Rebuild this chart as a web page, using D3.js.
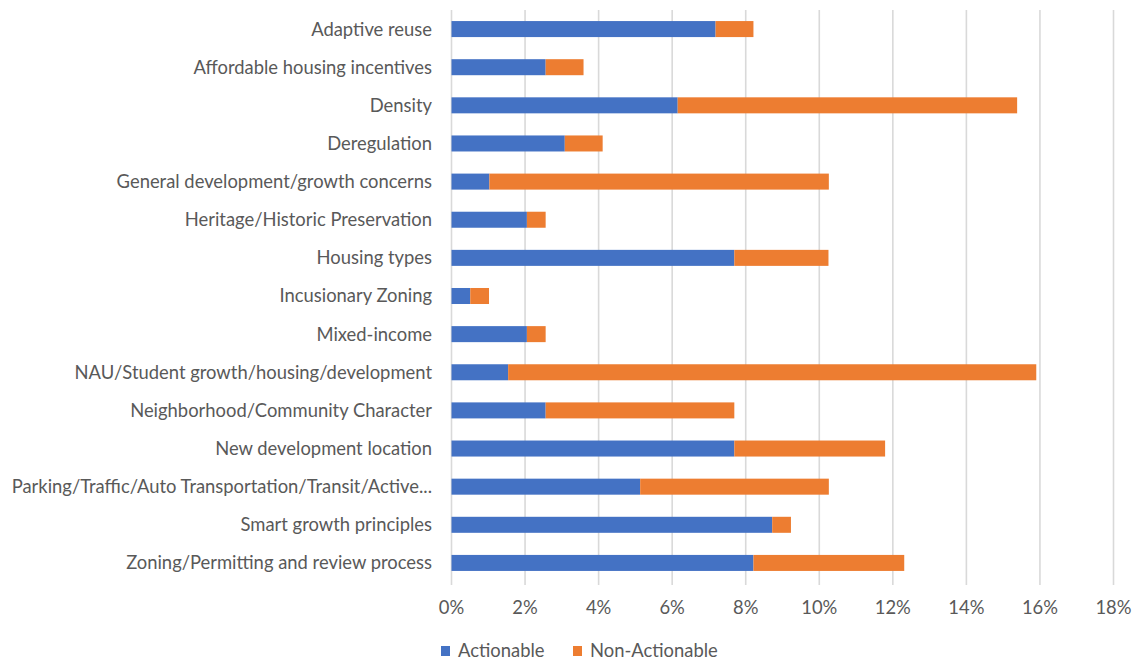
<!DOCTYPE html>
<html>
<head>
<meta charset="utf-8">
<script src="https://cdn.jsdelivr.net/npm/d3@7"></script>
<style>
  html, body { margin: 0; padding: 0; background: #fff; }
  svg { display: block; }
  text { font-family: Lato, "Open Sans", sans-serif; fill: #595959; }
</style>
</head>
<body>
<svg id="chart" width="1135" height="662"></svg>
<script>
// Comment themes, top to bottom
const categories = [
  "Adaptive reuse",
  "Affordable housing incentives",
  "Density",
  "Deregulation",
  "General development/growth concerns",
  "Heritage/Historic Preservation",
  "Housing types",
  "Incusionary Zoning",
  "Mixed-income",
  "NAU/Student growth/housing/development",
  "Neighborhood/Community Character",
  "New development location",
  "Parking/Traffic/Auto Transportation/Transit/Active...",
  "Smart growth principles",
  "Zoning/Permitting and review process"
];

// Share of comments (%) per theme
const actionable    = [7.18, 2.56, 6.15, 3.08, 1.03, 2.05, 7.69, 0.51, 2.05, 1.54, 2.56, 7.69, 5.13, 8.72, 8.21];
const nonActionable = [1.03, 1.03, 9.23, 1.03, 9.23, 0.51, 2.56, 0.51, 0.51, 14.36, 5.13, 4.10, 5.13, 0.51, 4.10];

const seriesNames = ["Actionable", "Non-Actionable"];
const seriesColors = ["#4472C4", "#ED7D31"];
const tickValues = [0, 2, 4, 6, 8, 10, 12, 14, 16, 18];

const svg = d3.select("#chart");

const plotLeft = 451.5, plotRight = 1113.5, plotTop = 10, plotBottom = 582;
const fontSize = 18.4;

const x = d3.scaleLinear().domain([0, 18]).range([plotLeft, plotRight]);
const y = d3.scaleBand().domain(categories).range([plotTop, plotBottom]).paddingInner(0.58).paddingOuter(0.29);

// Vertical gridlines
svg.append("g")
  .selectAll("line")
  .data(tickValues)
  .join("line")
  .attr("x1", d => x(d)).attr("x2", d => x(d))
  .attr("y1", plotTop).attr("y2", plotBottom + 3)
  .attr("stroke", "#d9d9d9")
  .attr("stroke-width", 1.6);

// Stacked bars
const rows = categories.map((c, i) => ({ cat: c, a: actionable[i], n: nonActionable[i] }));
const stack = d3.stack().keys(["a", "n"])(rows);

svg.append("g")
  .selectAll("g")
  .data(stack)
  .join("g")
  .attr("fill", (d, i) => seriesColors[i])
  .selectAll("rect")
  .data(d => d)
  .join("rect")
  .attr("x", d => x(d[0]))
  .attr("width", d => x(d[1]) - x(d[0]))
  .attr("y", d => y(d.data.cat))
  .attr("height", y.bandwidth());

// Category labels
svg.append("g")
  .selectAll("text")
  .data(categories)
  .join("text")
  .attr("x", 432)
  .attr("y", d => y(d) + y.bandwidth() / 2)
  .attr("dy", "0.35em")
  .attr("text-anchor", "end")
  .attr("font-size", fontSize)
  .text(d => d);

// Tick labels
svg.append("g")
  .selectAll("text")
  .data(tickValues)
  .join("text")
  .attr("x", d => x(d))
  .attr("y", 608)
  .attr("dy", "0.35em")
  .attr("text-anchor", "middle")
  .attr("font-size", fontSize)
  .text(d => d + "%");

// Legend
const legend = svg.append("g");
const legendX = [441, 573];
seriesNames.forEach((name, i) => {
  legend.append("rect")
    .attr("x", legendX[i]).attr("y", 646)
    .attr("width", 9).attr("height", 10)
    .attr("fill", seriesColors[i]);
  legend.append("text")
    .attr("x", legendX[i] + 17).attr("y", 651)
    .attr("dy", "0.35em")
    .attr("font-size", fontSize)
    .text(name);
});
</script>
</body>
</html>
